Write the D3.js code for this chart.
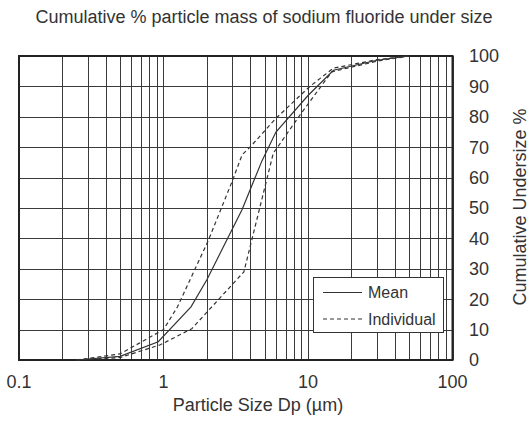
<!DOCTYPE html>
<html>
<head>
<meta charset="utf-8">
<script src="https://cdn.jsdelivr.net/npm/d3@7"></script>
<style>
  body { margin: 0; background: #fff; }
  text { font-family: "Liberation Sans", Arial, sans-serif; fill: #333; }
</style>
</head>
<body>
<div id="chart"></div>
<script>
// particle size (um) vs cumulative % undersize
const meanSize = [0.25, 0.5, 0.92, 1.55, 2.0, 3.5, 4.8, 6.0, 10, 15, 30, 50];
const meanPct  = [0, 1.2, 6, 17.5, 26.5, 49.5, 65.5, 75, 87, 95.3, 98.6, 100];

const upperSize = [0.25, 0.5, 1.0, 1.25, 2.05, 3.0, 3.5, 4.0, 6.0, 10.3, 15, 30, 50];
const upperPct  = [0, 2, 10, 17.5, 39.5, 59, 67.5, 70.2, 79.5, 90, 96, 98.8, 100];

const lowerSize = [0.25, 0.5, 0.95, 1.57, 3.6, 5.75, 8.8, 14.6, 30, 50];
const lowerPct  = [0, 0.8, 5, 10.3, 29, 68, 80.6, 94.8, 98.3, 100];

const xTicks = [0.1, 1, 10, 100];
const yTicks = [0, 10, 20, 30, 40, 50, 60, 70, 80, 90, 100];

const width = 531, height = 421;

const svg = d3.select('#chart')
    .append('svg')
    .attr('width', width)
    .attr('height', height);

const x = d3.scaleLog().domain([0.1, 100]).range([19, 452.5]);
const y = d3.scaleLinear().domain([0, 100]).range([360, 56]);

// minor + major vertical grid (1..9 per decade)
const xGrid = [];
[0.1, 1, 10].forEach(dec => { for (let k = 1; k <= 9; k++) xGrid.push(dec * k); });
xGrid.push(100);

svg.append('g')
    .selectAll('line')
    .data(xGrid)
    .enter()
    .append('line')
    .attr('x1', d => Math.round(x(d)) + 0.5)
    .attr('x2', d => Math.round(x(d)) + 0.5)
    .attr('y1', y(0))
    .attr('y2', y(100))
    .attr('stroke', '#3a3a3a')
    .attr('stroke-width', 1);

svg.append('g')
    .selectAll('line')
    .data(yTicks)
    .enter()
    .append('line')
    .attr('x1', x(0.1))
    .attr('x2', x(100))
    .attr('y1', d => Math.round(y(d)) + 0.5)
    .attr('y2', d => Math.round(y(d)) + 0.5)
    .attr('stroke', '#3a3a3a')
    .attr('stroke-width', 1);

// frame
svg.append('rect')
    .attr('x', x(0.1))
    .attr('y', y(100))
    .attr('width', x(100) - x(0.1))
    .attr('height', y(0) - y(100))
    .attr('fill', 'none')
    .attr('stroke', '#222')
    .attr('stroke-width', 2);

// curves
const line = d3.line()
    .x(d => x(d[0]))
    .y(d => y(d[1]));

const series = [
    { size: upperSize, pct: upperPct, dash: '4,3' },
    { size: lowerSize, pct: lowerPct, dash: '4,3' },
    { size: meanSize, pct: meanPct, dash: null }
];

series.forEach(s => {
    svg.append('path')
        .datum(s.size.map((v, i) => [v, s.pct[i]]))
        .attr('d', line)
        .attr('fill', 'none')
        .attr('stroke', '#333')
        .attr('stroke-width', 1.2)
        .attr('stroke-dasharray', s.dash);
});

// tick labels
svg.append('g')
    .selectAll('text')
    .data(xTicks)
    .enter()
    .append('text')
    .attr('x', d => x(d))
    .attr('y', 388)
    .attr('text-anchor', 'middle')
    .attr('font-size', 18)
    .text(d => d);

svg.append('g')
    .selectAll('text')
    .data(yTicks)
    .enter()
    .append('text')
    .attr('x', 469)
    .attr('y', d => y(d))
    .attr('dy', '0.35em')
    .attr('font-size', 18)
    .text(d => d);

// titles
svg.append('text')
    .attr('x', 264)
    .attr('y', 23)
    .attr('text-anchor', 'middle')
    .attr('font-size', 18)
    .text('Cumulative % particle mass of sodium fluoride under size');

svg.append('text')
    .attr('x', 258)
    .attr('y', 411)
    .attr('text-anchor', 'middle')
    .attr('font-size', 18)
    .text('Particle Size Dp (µm)');

svg.append('text')
    .attr('transform', 'translate(525.5,207) rotate(-90)')
    .attr('text-anchor', 'middle')
    .attr('font-size', 18)
    .text('Cumulative Undersize %');

// legend
const legend = svg.append('g');
legend.append('rect')
    .attr('x', 313.5)
    .attr('y', 277.5)
    .attr('width', 130)
    .attr('height', 55)
    .attr('fill', '#fff')
    .attr('stroke', '#333')
    .attr('stroke-width', 1);

[{ label: 'Mean', dash: null, yy: 292.5 }, { label: 'Individual', dash: '4,3', yy: 319 }].forEach(l => {
    legend.append('line')
        .attr('x1', 323)
        .attr('x2', 362)
        .attr('y1', l.yy)
        .attr('y2', l.yy)
        .attr('stroke', '#333')
        .attr('stroke-width', 1.2)
        .attr('stroke-dasharray', l.dash);
    legend.append('text')
        .attr('x', 368)
        .attr('y', l.yy)
        .attr('dy', '0.35em')
        .attr('font-size', 16)
        .text(l.label);
});
</script>
</body>
</html>
